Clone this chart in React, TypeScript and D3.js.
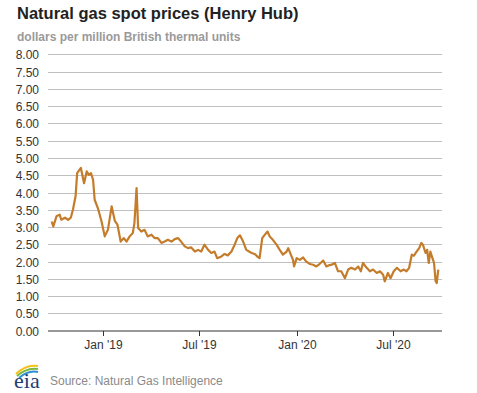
import React from 'react';
import * as d3 from 'd3';

// Henry Hub spot price, $/MMBtu
const dates: string[] = [
  '2018-09-26', '2018-09-29', '2018-10-05', '2018-10-11', '2018-10-14', '2018-10-21', '2018-10-27',
  '2018-11-01', '2018-11-05', '2018-11-10', '2018-11-13', '2018-11-20', '2018-11-26', '2018-12-01',
  '2018-12-05', '2018-12-09', '2018-12-13', '2018-12-16', '2018-12-22', '2018-12-29', '2019-01-04',
  '2019-01-10', '2019-01-17', '2019-01-23', '2019-01-28', '2019-02-03', '2019-02-09', '2019-02-14',
  '2019-02-20', '2019-02-26', '2019-03-01', '2019-03-05', '2019-03-08', '2019-03-14', '2019-03-20',
  '2019-03-26', '2019-04-02', '2019-04-08', '2019-04-14', '2019-04-21', '2019-04-27', '2019-05-03',
  '2019-05-10', '2019-05-16', '2019-05-22', '2019-05-28', '2019-06-04', '2019-06-10', '2019-06-16',
  '2019-06-23', '2019-06-29', '2019-07-05', '2019-07-11', '2019-07-18', '2019-07-24', '2019-07-30',
  '2019-08-04', '2019-08-12', '2019-08-18', '2019-08-24', '2019-08-31', '2019-09-06', '2019-09-11',
  '2019-09-16', '2019-09-22', '2019-09-28', '2019-10-08', '2019-10-14', '2019-10-20', '2019-10-23',
  '2019-10-28', '2019-11-02', '2019-11-07', '2019-11-11', '2019-11-17', '2019-11-24', '2019-11-30',
  '2019-12-06', '2019-12-13', '2019-12-16', '2019-12-21', '2019-12-25', '2019-12-27', '2020-01-01',
  '2020-01-07', '2020-01-13', '2020-01-19', '2020-01-26', '2020-02-01', '2020-02-07', '2020-02-13',
  '2020-02-20', '2020-02-26', '2020-03-03', '2020-03-07', '2020-03-13', '2020-03-19', '2020-03-25',
  '2020-04-01', '2020-04-07', '2020-04-13', '2020-04-20', '2020-04-26', '2020-05-01', '2020-05-05',
  '2020-05-12', '2020-05-18', '2020-05-24', '2020-05-31', '2020-06-06', '2020-06-12', '2020-06-15',
  '2020-06-21', '2020-06-26', '2020-07-02', '2020-07-08', '2020-07-15', '2020-07-21', '2020-07-26',
  '2020-07-31', '2020-08-05', '2020-08-09', '2020-08-14', '2020-08-19', '2020-08-23', '2020-08-26',
  '2020-08-31', '2020-09-03', '2020-09-06', '2020-09-09', '2020-09-13', '2020-09-16', '2020-09-19',
  '2020-09-21', '2020-09-24',
];

const prices: number[] = [
  3.16, 3.02, 3.31, 3.36, 3.21, 3.27, 3.21,
  3.27, 3.5, 3.89, 4.56, 4.71, 4.27, 4.61,
  4.51, 4.56, 4.37, 3.79, 3.55, 3.16, 2.73,
  2.92, 3.6, 3.18, 3.07, 2.58, 2.68, 2.58,
  2.73, 2.83, 3.12, 4.13, 2.97, 2.87, 2.92,
  2.73, 2.78, 2.68, 2.68, 2.54, 2.58, 2.63,
  2.58, 2.65, 2.68, 2.58, 2.44, 2.39, 2.41,
  2.29, 2.34, 2.29, 2.49, 2.34, 2.25, 2.29,
  2.1, 2.15, 2.22, 2.18, 2.29, 2.49, 2.68,
  2.76, 2.58, 2.34, 2.25, 2.22, 2.13, 2.1,
  2.68, 2.78, 2.87, 2.73, 2.63, 2.49, 2.34,
  2.2, 2.29, 2.39, 2.2, 2.05, 1.86, 2.1,
  2.05, 2.12, 2.0, 1.93, 1.91, 1.86, 1.93,
  2.03, 1.86, 1.9, 1.91, 1.96, 1.72, 1.72,
  1.52, 1.77, 1.82, 1.77, 1.86, 1.72, 1.96,
  1.82, 1.72, 1.77, 1.67, 1.72, 1.62, 1.43,
  1.67, 1.52, 1.72, 1.82, 1.72, 1.77, 1.72,
  1.82, 2.2, 2.17, 2.29, 2.39, 2.54, 2.49,
  2.25, 2.34, 1.96, 2.29, 2.1, 1.96, 1.43,
  1.38, 1.77,
];

const yTicks: number[] = [0, 0.5, 1, 1.5, 2, 2.5, 3, 3.5, 4, 4.5, 5, 5.5, 6, 6.5, 7, 7.5, 8];
const xTicks: string[] = ['2019-01-01', '2019-07-01', '2020-01-01', '2020-07-01'];
const xTickLabels: string[] = ["Jan '19", "Jul '19", "Jan '20", "Jul '20"];

const W = 477;
const H = 393;
const font = "Arial, 'Liberation Sans', sans-serif";

const App: React.FC = () => {
  const parse = d3.timeParse('%Y-%m-%d');
  const data = dates.map((d, i) => ({ date: parse(d) as Date, value: prices[i] }));

  const x = d3.scaleTime()
    .domain([parse('2018-09-19') as Date, parse('2020-10-01') as Date])
    .range([48, 442]);
  const y = d3.scaleLinear().domain([0, 8]).range([330.7, 54.3]);

  const line = d3.line<{ date: Date; value: number }>()
    .x(d => x(d.date))
    .y(d => y(d.value));

  return (
    <div style={{ position: 'absolute', left: 0, top: 0 }}>
      <svg width={W} height={H} style={{ display: 'block', background: '#fff' }}>
        <text x={17} y={18.5} fontFamily={font} fontSize={16.5} fontWeight="bold" fill="#222">
          Natural gas spot prices (Henry Hub)
        </text>
        <text x={17} y={40.5} fontFamily={font} fontSize={12} fontWeight="bold" fill="#9a9a9a">
          dollars per million British thermal units
        </text>

        {/* grid + y labels */}
        {yTicks.map(t => (
          <g key={t}>
            {t > 0 && (
              <line x1={48} x2={442} y1={Math.round(y(t)) + 0.5} y2={Math.round(y(t)) + 0.5}
                stroke="#c0c0c0" strokeWidth={1} />
            )}
            <text x={39} y={y(t) + 5} textAnchor="end" fontFamily={font} fontSize={12} fill="#333">
              {t.toFixed(2)}
            </text>
          </g>
        ))}

        {/* x axis */}
        <line x1={48} x2={442} y1={331} y2={331} stroke="#333" strokeWidth={1} />
        {xTicks.map((t, i) => {
          const px = Math.round(x(parse(t) as Date)) + 0.5;
          return (
            <g key={t}>
              <line x1={px} x2={px} y1={331} y2={336} stroke="#333" strokeWidth={1} />
              <text x={px} y={349} textAnchor="middle" fontFamily={font} fontSize={12} fill="#333">
                {xTickLabels[i]}
              </text>
            </g>
          );
        })}

        <path d={line(data) || ''} fill="none" stroke="#c47c2b" strokeWidth={2.2} strokeLinejoin="round" />

        {/* eia logo */}
        <g>
          <path d="M16,374 Q26,364 38,366" fill="none" stroke="#f3c317" strokeWidth={2} />
          <path d="M17,376 Q27,367 38,369" fill="none" stroke="#7bb642" strokeWidth={2} />
          <path d="M19,378 Q28,370 38,372" fill="none" stroke="#2c8fd3" strokeWidth={2} />
          <text x={14} y={388} fontFamily="'Liberation Serif', 'DejaVu Serif', serif" fontSize={22}
            fill="#1f3d73">eia</text>
        </g>
        <text x={50} y={385} fontFamily={font} fontSize={12} fill="#8a8a8a">
          Source: Natural Gas Intelligence
        </text>
      </svg>
    </div>
  );
};

export default App;
